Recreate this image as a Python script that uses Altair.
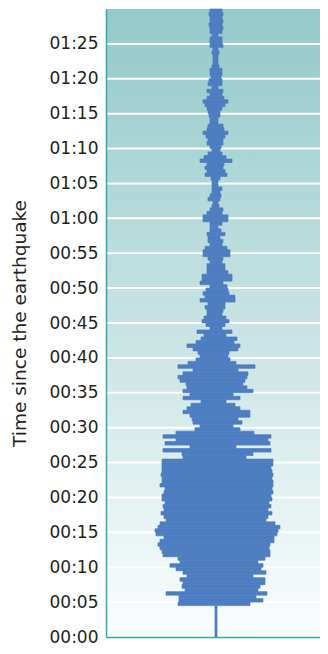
import json
import altair as alt
import pandas as pd

# time samples (minutes since the earthquake), 0.5-minute steps
times = [i * 0.5 for i in range(180)]

left = [
    -1, -1, -1, -1, -1, -1, -1, -1, -1, -38,
    -37, -37, -50, -31, -34, -33, -36, -29, -33, -40,
    -46, -36, -38, -53, -54, -56, -58, -56, -52, -60,
    -61, -58, -56, -50, -52, -55, -52, -53, -51, -54,
    -54, -52, -51, -56, -54, -54, -55, -54, -54, -54,
    -54, -33, -34, -53, -26, -51, -40, -53, -40, -21,
    -16, -23, -24, -26, -33, -29, -25, -15, -33, -26,
    -33, -29, -30, -36, -38, -33, -23, -38, -28, -20,
    -16, -18, -23, -29, -20, -15, -12, -19, -6, -10,
    -14, -12, -9, -9, -11, -8, -16, -11, -13, -10,
    -6, -16, -14, -14, -9, -9, -9, -6, -8, -13,
    -13, -11, -6, -8, -8, -9, -6, -6, -6, -13,
    -13, -9, -6, -4, -3, -8, -6, -4, -4, -4,
    -4, -5, -11, -9, -11, -9, -16, -12, -8, -4,
    -6, -9, -8, -10, -13, -9, -8, -6, -6, -7,
    -8, -9, -11, -13, -9, -6, -9, -4, -8, -7,
    -5, -6, -6, -4, -3, -3, -3, -4, -3, -6,
    -6, -6, -4, -6, -6, -7, -6, -6, -7, -6,
]

right = [
    1, 1, 1, 1, 1, 1, 1, 1, 1, 34,
    47, 40, 51, 42, 44, 49, 49, 37, 50, 45,
    47, 42, 49, 54, 54, 53, 54, 58, 58, 61,
    62, 64, 59, 50, 52, 56, 52, 55, 53, 56,
    55, 57, 56, 57, 57, 56, 57, 56, 55, 57,
    57, 30, 37, 55, 20, 54, 52, 55, 38, 24,
    17, 26, 22, 34, 34, 24, 19, 10, 24, 17,
    37, 31, 27, 29, 31, 32, 22, 39, 20, 14,
    12, 13, 22, 24, 18, 21, 10, 16, 6, 9,
    13, 10, 6, 7, 9, 9, 19, 19, 13, 12,
    11, 7, 16, 16, 12, 9, 9, 6, 7, 14,
    14, 11, 6, 7, 4, 9, 5, 2, 6, 12,
    12, 6, 7, 3, 2, 4, 5, 4, 6, 2,
    2, 4, 11, 9, 7, 8, 16, 10, 6, 4,
    5, 7, 7, 9, 12, 8, 7, 2, 2, 4,
    4, 6, 9, 12, 8, 6, 7, 2, 6, 6,
    5, 6, 6, 3, 2, 2, 2, 3, 2, 7,
    6, 6, 2, 6, 7, 6, 7, 6, 7, 6,
]

tick_values = list(range(0, 90, 5))
tick_labels = [
    "00:00", "00:05", "00:10", "00:15", "00:20", "00:25", "00:30", "00:35",
    "00:40", "00:45", "00:50", "00:55", "01:00", "01:05", "01:10", "01:15",
    "01:20", "01:25",
]

W, H = 214, 628

wave = pd.DataFrame({
    "t": times,
    "t2": [t + 0.5 for t in times],
    "lo": left,
    "hi": right,
})
grid = pd.DataFrame({"t": tick_values})

xs = alt.Scale(domain=[-110, 104], nice=False, zero=False)
ys = alt.Scale(domain=[0, 90], nice=False, zero=False)

label_expr = json.dumps(tick_labels) + "[round(datum.value/5)]"

y_axis = alt.Axis(
    values=tick_values, labelExpr=label_expr, ticks=False, grid=False,
    labelOverlap=False, labelBound=False, labelFlush=False,
    title="Time since the earthquake", domainColor="#2eaaa8",
    domainWidth=1.5, labelFont="DejaVu Sans", labelFontSize=17,
    labelColor="#231f20", labelPadding=8, titleFont="DejaVu Sans",
    titleFontSize=18.5, titleFontWeight="normal", titleColor="#231f20",
    titlePadding=20, zindex=1,
)

gradient = alt.Gradient(
    gradient="linear",
    stops=[
        alt.GradientStop(color="#93c9c9", offset=0),
        alt.GradientStop(color="#fbfdfd", offset=1),
    ],
    x1=0, x2=0, y1=0, y2=1,
)

bg = alt.Chart(grid).mark_rect(fill=gradient).encode(
    x=alt.value(0), x2=alt.value(W), y=alt.value(0), y2=alt.value(H)
).transform_filter("datum.t == 0")

grid_lines = alt.Chart(grid).mark_rule(color="white", strokeWidth=2).encode(
    y=alt.Y("t:Q", scale=ys, axis=y_axis),
)

bars = alt.Chart(wave).mark_rect(
    color="#4e7dc1", stroke="#4e7dc1", strokeWidth=0.7
).encode(
    x=alt.X(
        "lo:Q", scale=xs,
        axis=alt.Axis(labels=False, ticks=False, grid=False, title=None,
                      domainColor="#2eaaa8", domainWidth=1.5, zindex=1),
    ),
    x2="hi:Q",
    y=alt.Y("t:Q", scale=ys, axis=y_axis),
    y2="t2:Q",
)

chart = alt.layer(bg, grid_lines, bars).properties(
    width=W, height=H,
    autosize=alt.AutoSizeParams(type="none"),
    padding={"left": 98, "top": 1, "right": 0, "bottom": 9},
).configure_view(stroke=None).configure_axis(labelOverlap=False)

chart.save("out.html", embed_options={"renderer": "svg", "actions": False})
